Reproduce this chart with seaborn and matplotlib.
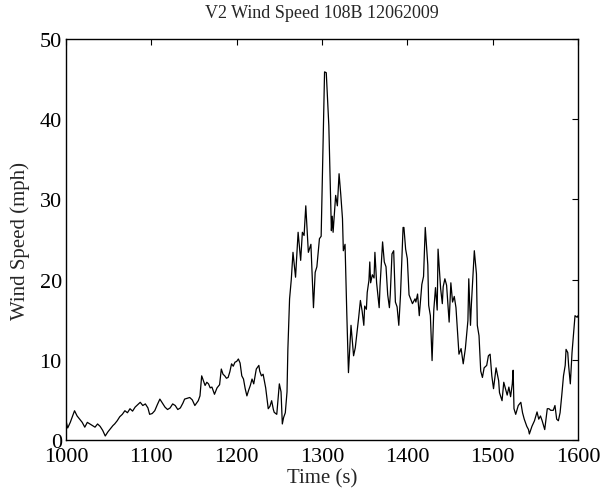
import matplotlib
matplotlib.use("Agg")
import matplotlib.pyplot as plt
import seaborn as sns
import pandas as pd

time_s = [1000, 1002, 1005, 1010, 1013, 1016, 1019, 1022, 1025, 1028, 1031, 1034, 1037, 1040, 1043, 1046,
          1049, 1052, 1055, 1057, 1060, 1063, 1066, 1069, 1072, 1075, 1078, 1081, 1084, 1087, 1090, 1093,
          1096, 1098, 1101, 1104, 1107, 1110, 1113, 1116, 1119, 1122, 1125, 1128, 1131, 1134, 1137, 1139,
          1142, 1145, 1148, 1151, 1155, 1157, 1159, 1161, 1163, 1165, 1167, 1169, 1171, 1174, 1177, 1180,
          1182, 1184, 1186, 1188, 1190, 1192, 1194, 1196, 1198, 1200, 1202, 1204, 1206, 1208, 1210, 1212,
          1214, 1216, 1218, 1220, 1223, 1226, 1227, 1229, 1231, 1234, 1237, 1239, 1241, 1243, 1244, 1247,
          1250, 1252, 1253.5, 1255, 1257, 1259, 1260, 1262, 1264, 1266, 1269, 1272, 1275, 1277, 1279, 1281,
          1284, 1287, 1290, 1292, 1294, 1297, 1299, 1303, 1305, 1308, 1311, 1312, 1313, 1316, 1318, 1320,
          1322, 1324, 1325, 1327, 1329, 1331, 1334, 1337, 1339, 1343, 1345, 1347, 1349, 1350, 1352, 1353,
          1355, 1356, 1357, 1359, 1361, 1362, 1364, 1367, 1368, 1371, 1373, 1375, 1377, 1379, 1380, 1382,
          1384, 1386, 1388, 1390, 1392, 1395, 1396, 1398, 1400, 1402, 1406, 1409, 1410, 1412, 1414, 1417,
          1419, 1421, 1424, 1425, 1427, 1429, 1431, 1433, 1435, 1436, 1437, 1439, 1441, 1442, 1444, 1446,
          1449, 1451, 1453, 1455, 1457, 1459, 1460.5, 1463, 1465.5, 1468, 1471, 1472, 1474, 1475, 1478.5, 1481,
          1482, 1484, 1486, 1488, 1490, 1493, 1495, 1497, 1499, 1501, 1504, 1507, 1508, 1511, 1513, 1515,
          1517, 1519, 1521, 1523, 1524, 1525, 1527, 1530, 1533, 1535, 1537, 1540, 1542, 1543, 1546, 1549,
          1552, 1554, 1556, 1558, 1561, 1564, 1566, 1568, 1571, 1573, 1575, 1577, 1579, 1581, 1583, 1585,
          1586, 1588, 1589, 1591, 1593, 1595, 1596.5, 1599, 1600]

wind_mph = [2.4, 1.5, 2.2, 3.65, 3.0, 2.6, 2.2, 1.6, 2.2, 2.0, 1.8, 1.6, 2.0, 1.7, 1.2, 0.5,
            1.0, 1.4, 1.8, 2.0, 2.4, 2.9, 3.2, 3.65, 3.4, 3.9, 3.6, 4.1, 4.4, 4.7, 4.3, 4.5,
            4.0, 3.2, 3.3, 3.65, 4.4, 5.1, 4.6, 4.1, 3.8, 4.0, 4.5, 4.3, 3.8, 4.0, 4.6, 5.1,
            5.2, 5.3, 5.0, 4.3, 4.9, 5.5, 8.0, 7.4, 6.8, 7.2, 7.0, 6.5, 6.6, 5.7, 6.5, 6.9,
            8.85, 8.2, 8.0, 7.7, 7.8, 8.5, 9.5, 9.2, 9.7, 9.8, 10.1, 9.6, 8.0, 7.6, 6.4, 5.5,
            6.2, 6.8, 7.6, 7.0, 8.85, 9.3, 8.6, 8.0, 8.2, 6.5, 3.9, 4.2, 4.9, 3.8, 3.45, 3.2,
            7.0, 6.0, 2.0, 2.8, 3.4, 6.0, 11.3, 17.6, 20.0, 23.4, 20.3, 25.9, 22.4, 25.9, 25.5, 29.2,
            23.4, 24.4, 16.5, 20.9, 21.6, 25.1, 25.4, 45.9, 45.8, 39.2, 26.1, 27.9, 25.9, 30.5, 29.2, 33.2,
            30.6, 27.6, 23.6, 24.4, 16.0, 8.4, 14.3, 10.5, 11.5, 15.3, 17.4, 16.1, 14.3, 16.7, 16.3, 18.4,
            19.9, 22.2, 19.6, 20.6, 20.2, 23.4, 19.6, 16.5, 19.2, 24.7, 22.2, 21.6, 18.1, 16.5, 18.1, 23.2,
            23.6, 17.2, 16.6, 14.3, 18.1, 26.5, 26.5, 23.8, 22.6, 18.1, 17.0, 17.6, 17.2, 18.2, 15.5, 19.4,
            20.4, 26.5, 21.8, 16.8, 15.5, 9.9, 16.2, 19.0, 16.2, 23.8, 22.2, 18.9, 17.0, 19.1, 20.1, 19.3,
            14.7, 19.6, 17.2, 17.9, 16.5, 13.2, 10.7, 11.4, 9.5, 11.4, 14.9, 20.1, 14.3, 16.8, 23.6, 20.7,
            14.3, 13.0, 8.6, 7.8, 9.0, 9.3, 10.5, 10.7, 8.0, 6.4, 9.0, 7.4, 5.9, 4.9, 7.2, 6.4,
            5.6, 6.6, 5.4, 7.0, 8.7, 3.9, 3.2, 4.3, 4.7, 3.4, 2.6, 1.7, 1.3, 0.75, 1.7, 2.4,
            3.5, 2.6, 3.0, 2.4, 1.3, 3.9, 3.9, 3.7, 3.7, 4.3, 2.6, 2.4, 3.4, 5.6, 8.0, 9.3,
            11.3, 10.9, 9.3, 7.0, 10.9, 13.5, 15.5, 15.3, 15.5]

x_ticks = [1000, 1100, 1200, 1300, 1400, 1500, 1600]
y_ticks = [0, 10, 20, 30, 40, 50]

sns.set_style("white")
plt.rcParams['font.family'] = ['Liberation Serif', 'DejaVu Serif']

df = pd.DataFrame({"Time (s)": time_s, "Wind Speed (mph)": wind_mph})

fig = plt.figure(figsize=(6.01, 5.02), dpi=100)
ax = fig.add_axes([66/601, 61/502, 512/601, 401/502])
sns.lineplot(data=df, x="Time (s)", y="Wind Speed (mph)", ax=ax,
             color="black", linewidth=0.9, estimator=None, sort=False)

ax.set_xlim(1000, 1600)
ax.set_ylim(0, 50)
ax.set_xticks(x_ticks)
ax.set_yticks(y_ticks)
ax.tick_params(direction="in", top=True, right=True, length=4, width=0.8,
               labelsize=16, colors="black")
ax.tick_params(axis="x", pad=5)
ax.tick_params(axis="y", pad=3)
for s in ax.spines.values():
    s.set_visible(True)
    s.set_color("black")
    s.set_linewidth(1.0)

ax.set_xlabel("Time (s)", fontsize=15, labelpad=2)
ax.set_ylabel("Wind Speed (mph)", fontsize=15, labelpad=7)
ax.set_title("V2 Wind Speed 108B 12062009", fontsize=13, pad=16)

fig.savefig("out.png", dpi=100, facecolor="white")
